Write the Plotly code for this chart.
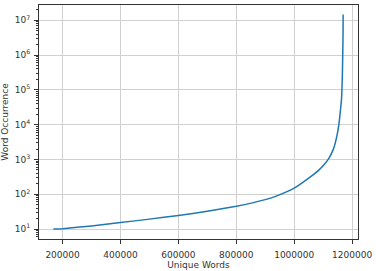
import plotly.graph_objects as go

unique_words = [168600, 200000, 300000, 400000, 500000, 600000, 700000, 800000,
                900000, 940000, 1000000, 1050000, 1085000, 1105000, 1118000, 1135000,
                1147000, 1154500, 1160500, 1163600, 1166000, 1167000, 1168700,
                1169000]
occurrence = [10, 10.2, 12.3, 15.3, 19.3, 24.5, 32.5, 45, 70, 90, 150, 290, 495,
              740, 1020, 1950, 4550, 10400, 30000, 57000, 206000, 490000, 4200000,
              14800000]

x_ticks = [200000, 400000, 600000, 800000, 1000000, 1200000]
y_ticks = [10, 100, 1000, 10000, 100000, 1000000, 10000000]
y_tick_text = ["10<sup>1</sup>", "10<sup>2</sup>", "10<sup>3</sup>", "10<sup>4</sup>",
               "10<sup>5</sup>", "10<sup>6</sup>", "10<sup>7</sup>"]
y_minor = [m * 10 ** k for k in range(0, 8) for m in range(2, 10)]

fig = go.Figure()
fig.add_trace(go.Scatter(x=unique_words, y=occurrence, mode="lines",
                         line=dict(color="#1f77b4", width=1.5, shape="spline", smoothing=0.3)))

axis_common = dict(showline=True, linecolor="#333", linewidth=1, mirror=True,
                   ticks="outside", ticklen=4, tickcolor="#333",
                   showgrid=True, gridcolor="#d0d0d0", gridwidth=1,
                   zeroline=False, ticklabeloverflow="allow",
                   tickfont=dict(family="DejaVu Sans", size=9, color="#333"))

fig.update_layout(
    width=376, height=271,
    margin=dict(l=37, r=13, t=4, b=25),
    paper_bgcolor="white", plot_bgcolor="white",
    showlegend=False,
    font=dict(family="DejaVu Sans", size=9, color="#333"),
    xaxis=dict(range=[118644, 1220339], tickvals=x_ticks,
               ticktext=[str(v) for v in x_ticks], ticklabelstandoff=3,
               title=dict(text="Unique Words", standoff=1, font=dict(size=9)),
               **axis_common),
    yaxis=dict(type="log", range=[0.714, 7.44], tickvals=y_ticks, ticktext=y_tick_text,
               ticklabelstandoff=2,
               title=dict(text="Word Occurrence", standoff=4, font=dict(size=9)),
               minor=dict(tickvals=y_minor, ticks="outside", ticklen=2,
                          tickcolor="#333", showgrid=False),
               **axis_common),
)

fig.write_html("out.html")
